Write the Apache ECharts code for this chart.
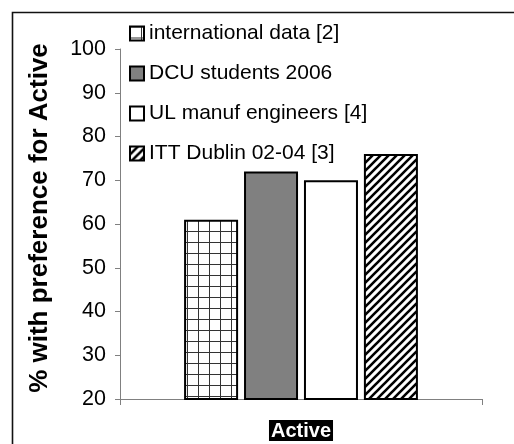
<!DOCTYPE html>
<html>
<head>
<meta charset="utf-8">
<script src="https://cdn.jsdelivr.net/npm/echarts@6/dist/echarts.min.js"></script>
<style>
html,body{margin:0;padding:0;background:#fff;}
#chart{width:514px;height:444px;}
</style>
</head>
<body>
<div id="chart"></div>
<script>
var categories = ['Active'];
var seriesNames = ['international data [2]', 'DCU students 2006', 'UL manuf engineers [4]', 'ITT Dublin 02-04 [3]'];
var intlData = [61];
var dcuData = [72];
var ulData = [70];
var ittData = [76];
var yTicks = [20, 30, 40, 50, 60, 70, 80, 90, 100];

function gridPattern() {
  var c = document.createElement('canvas');
  c.width = 11; c.height = 11;
  var g = c.getContext('2d');
  g.fillStyle = '#fff'; g.fillRect(0, 0, 11, 11);
  g.fillStyle = '#333';
  g.fillRect(0, 0, 1, 11);
  g.fillRect(0, 0, 11, 1);
  return c;
}
function hatchPattern() {
  var s = 8;
  var c = document.createElement('canvas');
  c.width = s; c.height = s;
  var g = c.getContext('2d');
  g.fillStyle = '#fff'; g.fillRect(0, 0, s, s);
  g.strokeStyle = '#000'; g.lineWidth = 2.6;
  g.beginPath();
  g.moveTo(-1, s + 1); g.lineTo(s + 1, -1);
  g.moveTo(-2, 2); g.lineTo(2, -2);
  g.moveTo(s - 2, s + 2); g.lineTo(s + 2, s - 2);
  g.stroke();
  return c;
}

var FONT = "'Liberation Sans', Arial, sans-serif";
var fills = [
  { image: gridPattern(), repeat: 'repeat' },
  '#808080',
  '#ffffff',
  { image: hatchPattern(), repeat: 'repeat' }
];
var values = [intlData, dcuData, ulData, ittData];

var chart = echarts.init(document.getElementById('chart'), null, { renderer: 'canvas' });
var series = seriesNames.map(function (n, i) {
  return {
    name: n,
    type: 'bar',
    data: values[i],
    barWidth: 54,
    barGap: '11%',
    itemStyle: { color: fills[i], borderColor: '#000', borderWidth: 2 },
    emphasis: { disabled: true },
    animation: false
  };
});

chart.setOption({
  animation: false,
  backgroundColor: '#fff',
  textStyle: { fontFamily: FONT },
  graphic: [{
    type: 'polyline',
    shape: { points: [[12.5, 444], [12.5, 12.5], [514, 12.5]] },
    style: { fill: 'none', stroke: '#111', lineWidth: 1.6 },
    silent: true
  }],
  legend: {
    orient: 'vertical',
    left: 124,
    top: 18,
    itemWidth: 14,
    itemHeight: 14,
    itemGap: 19,
    icon: 'rect',
    selectedMode: false,
    textStyle: { fontSize: 21, color: '#000', fontFamily: FONT },
    data: seriesNames
  },
  grid: { left: 120, right: 32, top: 49, bottom: 45 },
  xAxis: {
    type: 'category',
    data: categories,
    axisLine: { lineStyle: { color: '#808080', width: 1 } },
    axisTick: { show: true, length: 6, lineStyle: { color: '#808080' } },
    axisLabel: {
      margin: 21,
      color: '#fff',
      fontWeight: 'bold',
      fontSize: 20,
      fontFamily: FONT,
      backgroundColor: '#000',
      padding: [1, 2, 0, 2]
    }
  },
  yAxis: {
    type: 'value',
    min: yTicks[0],
    max: yTicks[yTicks.length - 1],
    interval: 10,
    splitLine: { show: false },
    axisLine: { show: true, lineStyle: { color: '#808080', width: 1 } },
    axisTick: { show: true, length: 5, lineStyle: { color: '#808080' } },
    axisLabel: { margin: 14, fontSize: 21.5, color: '#000', fontFamily: FONT },
    name: '% with preference for Active',
    nameLocation: 'middle',
    nameRotate: 90,
    nameGap: 67,
    nameTextStyle: { fontSize: 26, fontWeight: 'bold', color: '#000', fontFamily: FONT, padding: [0, 0, 0, 12] }
  },
  series: series
});
</script>
</body>
</html>
